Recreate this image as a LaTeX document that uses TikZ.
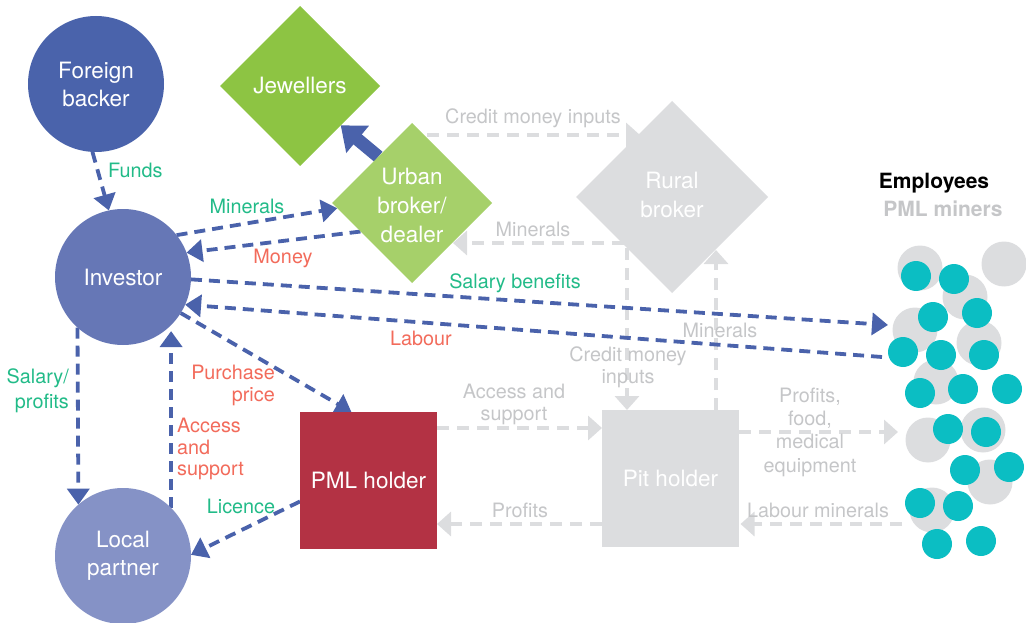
\documentclass[tikz,border=0pt]{standalone}
\usepackage{fontspec}
\setmainfont{TeX Gyre Heros}
\usetikzlibrary{arrows.meta,shapes.geometric,calc,backgrounds}
\definecolor{cFB}{HTML}{4A63AB}
\definecolor{cInv}{HTML}{6677B6}
\definecolor{cLP}{HTML}{8592C6}
\definecolor{cJw}{HTML}{8DC443}
\definecolor{cUb}{HTML}{A6D06A}
\definecolor{cGr}{HTML}{DCDDDF}
\definecolor{cPml}{HTML}{B33244}
\definecolor{cArr}{HTML}{4A62AB}
\definecolor{cCyan}{HTML}{0BBEC3}
\definecolor{tGreen}{HTML}{22BB88}
\definecolor{tRed}{HTML}{F26B5B}
\definecolor{tGray}{HTML}{C5C6C8}
\begin{document}
\begin{tikzpicture}[x=1pt,y=-1pt,
  circ/.style={circle,inner sep=0pt,outer sep=0pt,minimum size=136pt,text=white,align=center,font=\fontsize{22.5}{28}\selectfont},
  dmd/.style={diamond,aspect=1,inner sep=0pt,outer sep=0pt},
  sqbox/.style={rectangle,inner sep=0pt,outer sep=0pt,minimum size=137pt,text=white,align=center,font=\fontsize{22.5}{28}\selectfont},
  ntext/.style={text=white,align=center,inner sep=0pt,font=\fontsize{22.5}{29}\selectfont},
  lbl/.style={font=\fontsize{19.8}{22}\selectfont,inner sep=0pt},
  glbl/.style={lbl,text=tGreen},
  rlbl/.style={lbl,text=tRed},
  ylbl/.style={lbl,text=tGray},
  bflow/.style={draw=cArr,line width=3.8pt,dash pattern=on 11pt off 7pt,-{Triangle[length=16pt,width=22pt]}},
  gflow/.style={draw=cGr,line width=4pt,dash pattern=on 12pt off 8pt,-{Triangle[length=14pt,width=24pt]}},
  graydot/.style={fill=cGr},
  cyandot/.style={fill=cCyan}
]
\useasboundingbox (0,0) rectangle (1026,623);

% nodes
\node[circ,fill=cFB] (fb) at (96,84) {Foreign\\backer};
\node[circ,fill=cInv] (inv) at (123,277) {Investor};
\node[circ,fill=cLP] (lp) at (123,556) {Local\\partner};
\node[dmd,fill=cJw,minimum width=160pt,minimum height=160pt] (jw) at (300,86) {};
\node[ntext] at (jw) {Jewellers};
\node[dmd,fill=cUb,minimum width=160pt,minimum height=160pt] (ub) at (412,203) {};
\node[ntext] at ([yshift=-2pt]ub.center) {Urban\\broker/\\dealer};
\node[dmd,fill=cGr,minimum width=192pt,minimum height=192pt] (rb) at (672,197) {};
\node[ntext] at ([yshift=2pt]rb.center) {Rural\\broker};
\node[sqbox,fill=cPml] (pml) at (368.5,480.5) {PML holder};
\node[sqbox,fill=cGr] (pit) at (670.5,478.5) {Pit holder};

% employee end points
\coordinate (empA) at (888,325);
\coordinate (empB) at (882,357);
\coordinate (empC) at (898,432);
\coordinate (empD) at (902,524);

\begin{scope}[on background layer]
% gray flows
\draw[gflow] ($(ub)+(15,-68)$) -- ($(rb)+(-32,-62)$);
\draw[gflow] ($(rb)+(-48,46)$) -- ($(ub)+(41,40)$);
\draw[gflow] ($(rb)+(-45,51)$) -- ($(pit)+(-43.5,-68.5)$);
\draw[gflow] ($(pit)+(45.5,-68.5)$) -- ($(rb)+(44,53)$);
\draw[gflow] ($(pml)+(68.5,-52.5)$) -- ($(pit)+(-68.5,-50.5)$);
\draw[gflow] ($(pit)+(-68.5,45.5)$) -- ($(pml)+(68.5,43.5)$);
\draw[gflow] ($(pit)+(68.5,-46.5)$) -- (empC);
\draw[gflow] (empD) -- ($(pit)+(70,45.5)$);
% blue flows
\draw[bflow] (fb.267) -- (inv.102);
\draw[bflow] (inv.38) -- (ub.184);
\draw[bflow] (ub.209) -- (inv.21);
\draw[bflow] (inv.-2) -- (empA);
\draw[bflow] (empB) -- (inv.336);
\draw[bflow] (inv.328) -- (pml.104.5);
\draw[bflow] (inv.228.6) -- (lp.131.4);
\draw[bflow,shorten >=6pt] (lp.45) -- (inv.315);
\draw[bflow] (pml.197.4) -- (lp.1);
\draw[draw=cArr,line width=13pt,-{Triangle[length=22pt,width=34pt]}] (ub.126) -- (jw.316);
\end{scope}

% labels
\node[glbl,anchor=west] at (108,170) {Funds};
\node[glbl] at (247,206) {Minerals};
\node[rlbl] at (283,258) {Money};
\node[glbl] at (515,283) {Salary benefits};
\node[rlbl] at (421,338) {Labour};
\node[rlbl,align=right,anchor=east] at (275,385) {Purchase\\price};
\node[glbl,align=right,anchor=east,font=\fontsize{19.8}{25}\selectfont] at (69,390.5) {Salary/\\profits};
\node[rlbl,align=left,anchor=west,font=\fontsize{19.8}{21.5}\selectfont] at (177,449) {Access\\and\\support};
\node[glbl] at (241,506) {Licence};
\node[ylbl,align=center] at (514,404) {Access and\\support};
\node[ylbl] at (520,510) {Profits};
\node[ylbl] at (533,118) {Credit money inputs};
\node[ylbl] at (533,229) {Minerals};
\node[ylbl,align=center] at (628,367) {Credit money\\inputs};
\node[ylbl] at (720,330) {Minerals};
\node[ylbl,align=center,font=\fontsize{19.8}{23.3}\selectfont] at (810,432) {Profits,\\food,\\medical\\equipment};
\node[ylbl] at (818,510) {Labour minerals};

% legend
\node[font=\bfseries\fontsize{21}{24}\selectfont,inner sep=0pt] (legE) at (934,183) {Employees};
\node[font=\bfseries\fontsize{21}{24}\selectfont,inner sep=0pt,text=tGray] (legP) at (943,209) {PML miners};

% employees cluster
\foreach \x/\y in {920/268,1004/264,965/297,915/330,979/343,936/382,928/440,983/430,990/482,932/510}
  \fill[graydot] (\x,\y) circle[radius=22.5pt];
\foreach \x/\y in {916/276,954/279,933/317,977/313,903/352,941/355,984/355,920/393,963/389,1007/389,948/429,986/432,965/470,1009/467,920/503,958/506,937/544,981/541}
  \fill[cyandot] (\x,\y) circle[radius=15pt];
\end{tikzpicture}
\end{document}
